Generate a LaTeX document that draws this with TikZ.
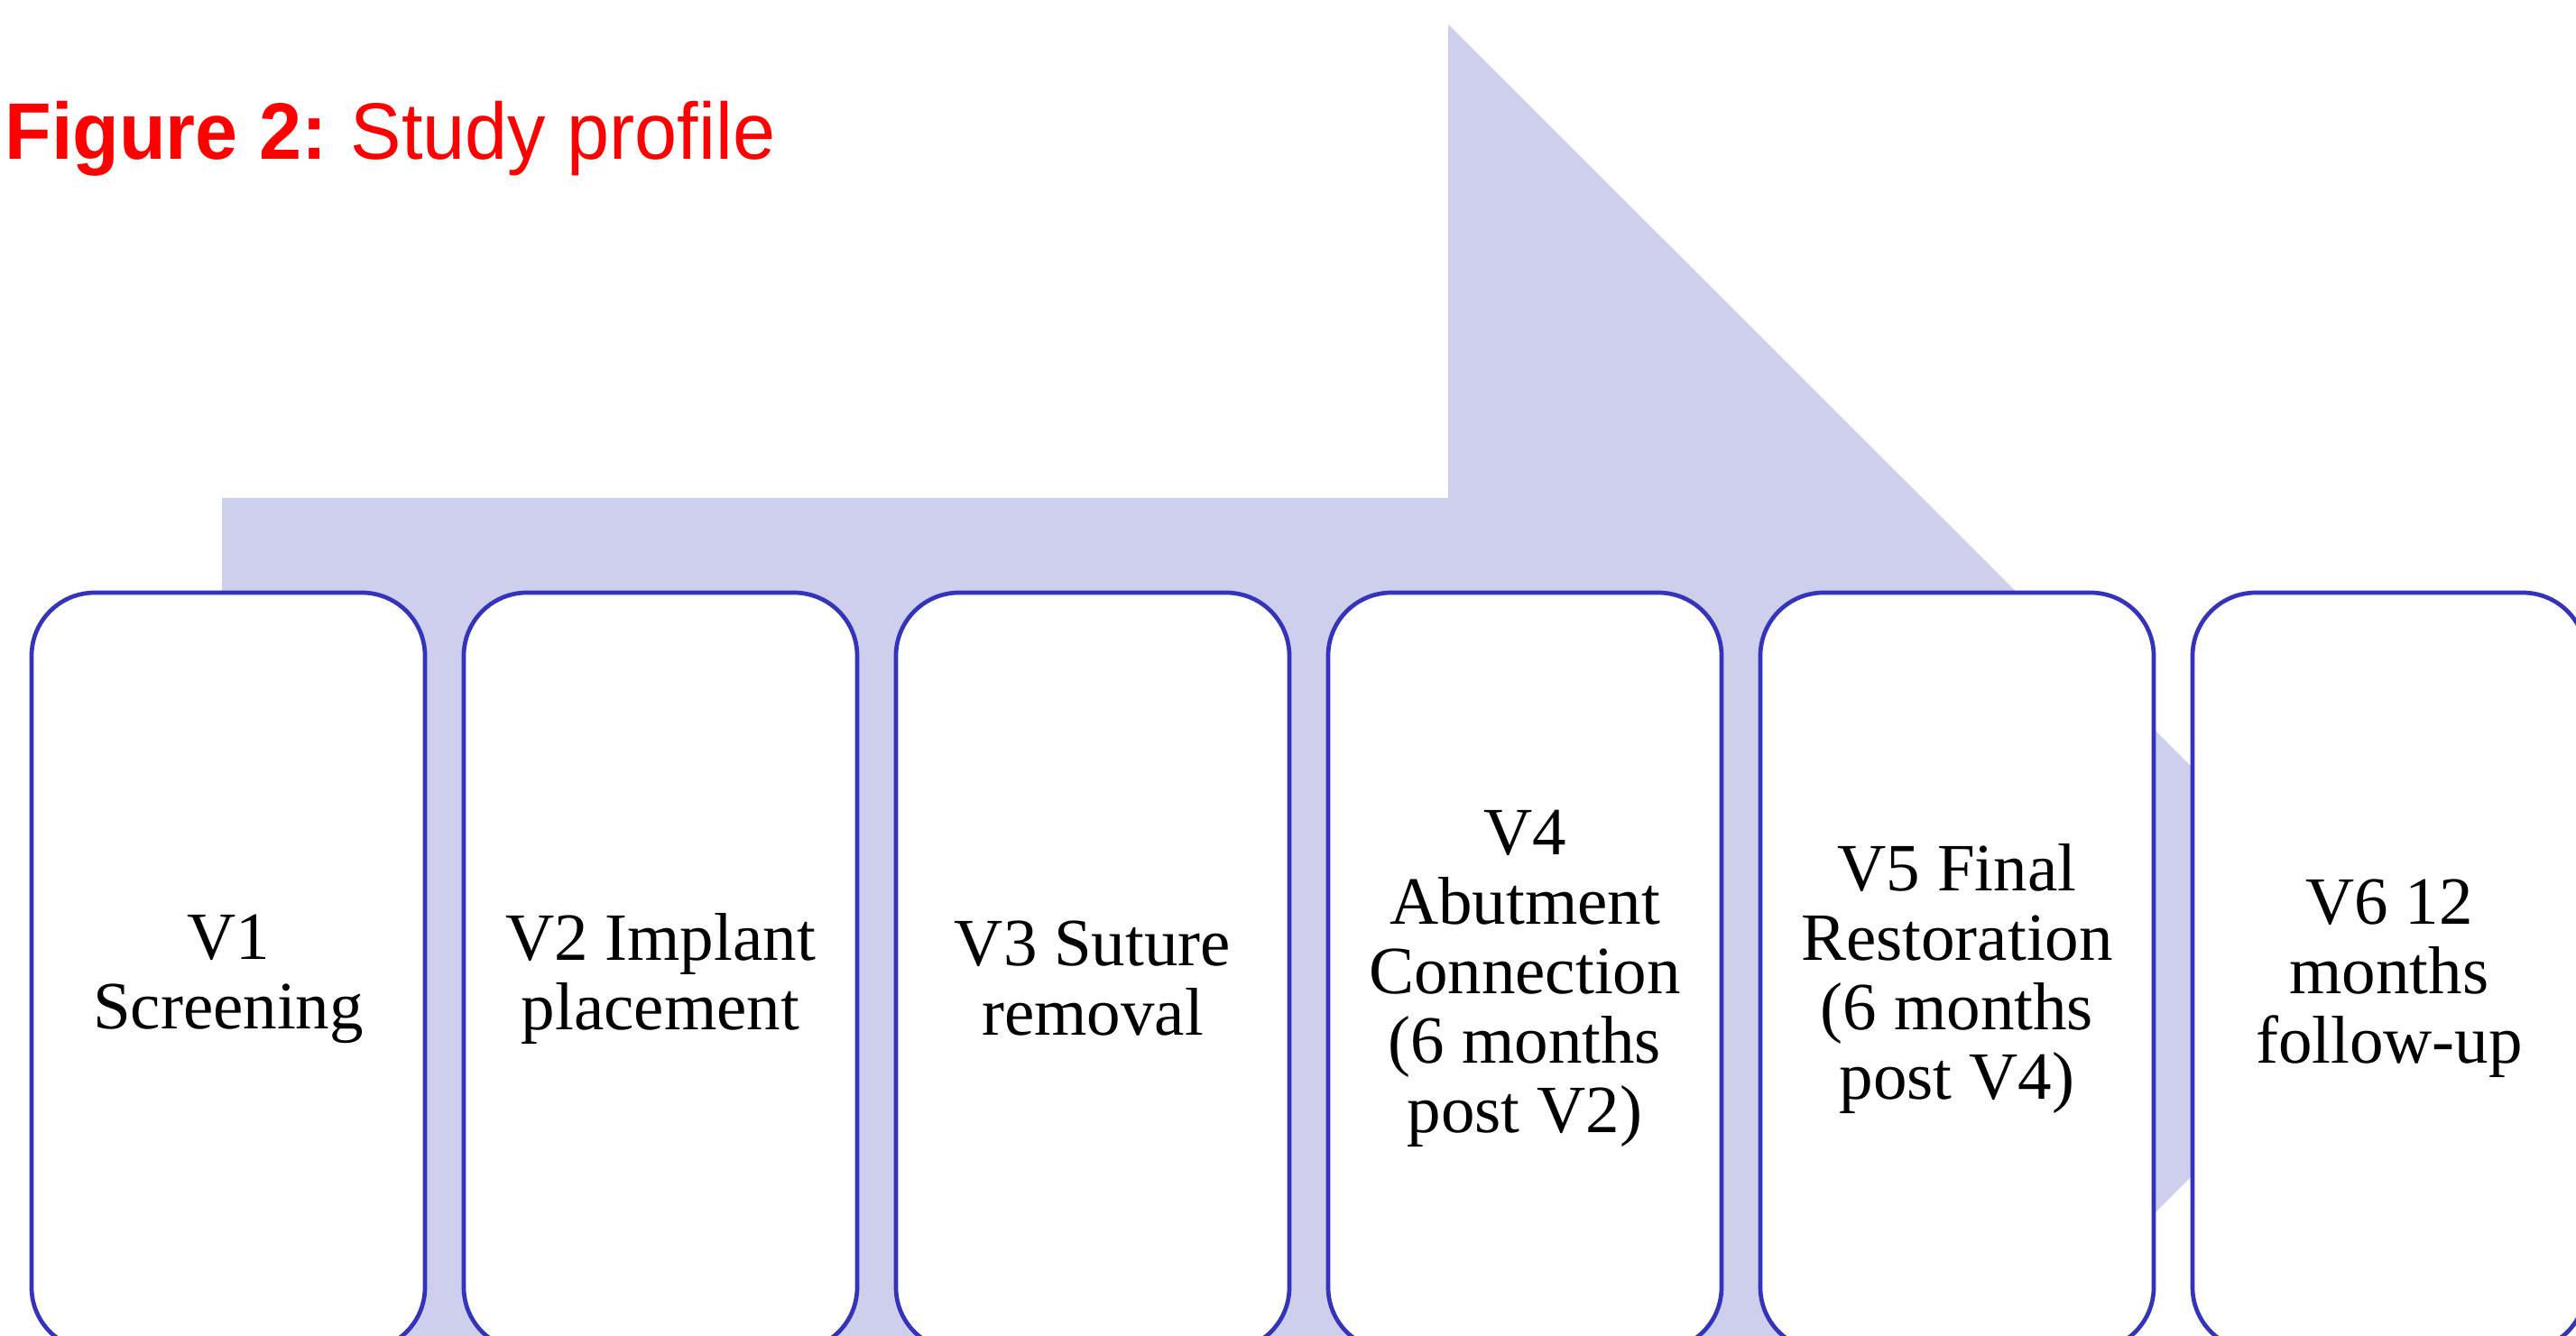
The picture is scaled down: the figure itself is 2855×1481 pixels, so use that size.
\documentclass[tikz,border=0pt]{standalone}
\usepackage{fontspec}
\setmainfont{Liberation Serif}
\newfontfamily\titlefont{Liberation Sans}
\definecolor{arrowfill}{RGB}{205,207,236}
\definecolor{boxline}{RGB}{51,51,187}
\tikzset{
  visitbox/.style={draw=boxline, line width=2.35pt, fill=white, rounded corners=35pt,
    minimum width=218pt, minimum height=420pt, inner sep=0pt},
  visittext/.style={inner sep=0pt, align=center, font=\fontsize{37.5}{38.5}\selectfont},
}
\begin{document}
\begin{tikzpicture}[x=0.5pt,y=0.5pt,yscale=-1,xscale=1]
\useasboundingbox (0,0) rectangle (2855,1481);
\clip (0,0) rectangle (2855,1481);

%Shape: Right Arrow [id:background]
\fill [arrowfill] (246,552) -- (1605,552) -- (1605,27) -- (2656,1077) -- (1605,2127) -- (1605,1602) -- (246,1602) -- cycle ;

%Shape: Rounded Rectangle [id:v1]
\draw (253,1077) node (v1) [visitbox] {};
%Shape: Rounded Rectangle [id:v2]
\draw (732,1077) node (v2) [visitbox] {};
%Shape: Rounded Rectangle [id:v3]
\draw (1211,1077) node (v3) [visitbox] {};
%Shape: Rounded Rectangle [id:v4]
\draw (1690,1077) node (v4) [visitbox] {};
%Shape: Rounded Rectangle [id:v5]
\draw (2169,1077) node (v5) [visitbox] {};
%Shape: Rounded Rectangle [id:v6]
\draw (2648,1077) node (v6) [visitbox] {};

% Text Node
\draw ([yshift=4pt]v1.center) node (v1txt) [visittext] {V1\\Screening};
% Text Node
\draw ([yshift=4pt]v2.center) node (v2txt) [visittext] {V2 Implant\\placement};
% Text Node
\draw ([yshift=4pt]v3.center) node (v3txt) [visittext] {V3 Suture\\removal};
% Text Node
\draw ([yshift=4pt]v4.center) node (v4txt) [visittext] {V4\\Abutment\\Connection\\(6 months\\post V2)};
% Text Node
\draw ([yshift=4pt]v5.center) node (v5txt) [visittext] {V5 Final\\Restoration\\(6 months\\post V4)};
% Text Node
\draw ([yshift=4pt]v6.center) node (v6txt) [visittext] {V6 12\\months\\follow-up};

% Text Node
\draw (5,177) node (title) [anchor=base west] [inner sep=0pt] [text=red, font=\titlefont\fontsize{42.3}{50}\selectfont] {\scalebox{1}[1.05]{\textbf{Figure 2:}\kern-2.5pt{} Study profile}};

\end{tikzpicture}
\end{document}
